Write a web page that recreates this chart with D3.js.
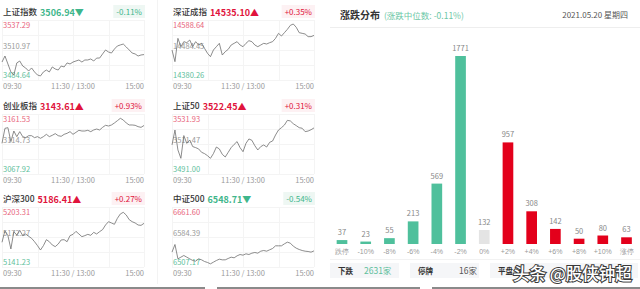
<!DOCTYPE html>
<html>
<head>
<meta charset="utf-8">
<script src="https://cdn.jsdelivr.net/npm/d3@7/dist/d3.min.js"></script>
<style>
	body { margin: 0; background: #fff; }
	svg { display: block; font-family: "Noto Sans CJK SC", "Noto Sans", sans-serif; }
</style>
</head>
<body>
<svg id="chart" width="640" height="289"></svg>
<script>

// ---- index panels ----
var indexNames = ['上证指数', '深证成指', '创业板指', '上证50', '沪深300', '中证500'];
var indexLast = ['3506.94', '14535.10', '3143.61', '3522.45', '5186.41', '6548.71'];
var indexChange = [-0.11, 0.35, 0.93, 0.31, 0.27, -0.54];
var indexHigh = [3537.29, 14588.64, 3161.53, 3531.93, 5203.31, 6661.60];
var indexLow = [3484.64, 14380.26, 3067.92, 3491.00, 5141.23, 6507.17];
var timeLabels = ['09:30', '11:30 / 13:00', '15:00'];

// one value every 5 trading minutes, 09:30 .. 15:00
var shPrices = [3500.4, 3505.7, 3498.7, 3491.7, 3489.0, 3499.6, 3501.3, 3496.9, 3495.2, 3492.5,
	3495.2, 3491.7, 3489.0, 3488.2, 3491.7, 3493.4, 3491.7, 3496.1, 3494.3, 3493.4,
	3496.9, 3496.1, 3499.6, 3498.7, 3500.4, 3501.3, 3502.2, 3500.4, 3502.2, 3502.2,
	3503.1, 3501.3, 3503.9, 3503.9, 3507.5, 3511.0, 3509.2, 3508.3, 3511.8, 3514.5,
	3515.4, 3516.2, 3513.6, 3511.0, 3508.3, 3507.5, 3505.7, 3506.6, 3506.94];
var szPrices = [14484.4, 14443.9, 14524.9, 14496.0, 14513.4, 14509.9, 14519.1, 14496.0, 14513.4, 14501.8,
	14507.6, 14490.2, 14472.9, 14461.3, 14484.4, 14496.0, 14507.6, 14467.0, 14478.6, 14486.7,
	14501.8, 14507.6, 14513.4, 14501.8, 14496.0, 14507.6, 14516.8, 14513.4, 14501.8, 14496.0,
	14501.8, 14507.6, 14505.2, 14509.9, 14513.4, 14524.9, 14542.3, 14533.0, 14544.6, 14556.2,
	14570.1, 14574.7, 14563.2, 14544.6, 14542.3, 14540.0, 14530.8, 14530.8, 14535.10];
var cybPrices = [3115.8, 3139.2, 3140.2, 3118.4, 3135.0, 3126.2, 3134.0, 3126.2, 3124.6, 3127.7,
	3127.7, 3124.6, 3126.2, 3123.6, 3126.2, 3129.8, 3126.2, 3128.3, 3130.9, 3127.7,
	3126.7, 3129.8, 3131.4, 3134.0, 3129.8, 3132.9, 3136.1, 3135.0, 3135.0, 3136.1,
	3134.0, 3136.6, 3138.1, 3136.6, 3140.7, 3143.9, 3142.8, 3144.4, 3147.5, 3151.1,
	3154.8, 3152.2, 3147.5, 3144.4, 3144.4, 3143.9, 3141.8, 3140.7, 3143.61];
var sz50Prices = [3510.8, 3521.0, 3507.4, 3501.7, 3517.2, 3511.9, 3514.2, 3509.7, 3509.0, 3508.1,
	3505.8, 3504.9, 3503.5, 3501.7, 3504.9, 3509.4, 3508.1, 3504.4, 3502.6, 3505.8,
	3509.0, 3511.2, 3513.1, 3509.0, 3506.2, 3511.9, 3514.9, 3514.0, 3510.3, 3507.4,
	3509.7, 3510.8, 3509.4, 3512.6, 3513.5, 3517.6, 3521.0, 3522.6, 3524.4, 3527.6,
	3527.2, 3525.3, 3524.0, 3522.6, 3522.2, 3519.9, 3520.3, 3521.2, 3522.45];
var hs300Prices = [5166.8, 5178.8, 5173.7, 5159.9, 5177.8, 5174.3, 5179.2, 5173.7, 5175.4, 5173.0,
	5170.9, 5167.4, 5163.3, 5158.8, 5163.3, 5169.5, 5167.4, 5164.0, 5162.3, 5165.0,
	5169.2, 5169.5, 5167.4, 5173.7, 5175.0, 5178.1, 5175.4, 5172.6, 5173.7, 5175.0,
	5174.0, 5177.1, 5175.4, 5177.8, 5179.9, 5184.7, 5188.1, 5186.8, 5185.4, 5191.6,
	5196.1, 5197.8, 5195.0, 5190.2, 5188.1, 5186.8, 5184.7, 5184.3, 5186.41];
var zz500Prices = [6545.4, 6565.1, 6528.2, 6532.5, 6536.8, 6532.5, 6528.2, 6523.9, 6522.2, 6528.2,
	6525.6, 6521.3, 6518.8, 6515.3, 6519.6, 6523.9, 6527.3, 6525.6, 6525.6, 6529.1,
	6532.5, 6530.8, 6535.9, 6539.3, 6537.6, 6541.1, 6539.3, 6542.8, 6544.5, 6542.8,
	6547.9, 6549.6, 6547.9, 6551.4, 6554.8, 6561.7, 6561.7, 6561.7, 6566.8, 6571.1,
	6568.5, 6560.8, 6555.6, 6552.2, 6549.6, 6547.9, 6547.1, 6545.4, 6548.71];
var indexPrices = [shPrices, szPrices, cybPrices, sz50Prices, hs300Prices, zz500Prices];

// ---- distribution ----
var distTitle = '涨跌分布';
var distMedian = '(涨跌中位数: -0.11%)';
var distDate = '2021.05.20 星期四';
var distCategories = ['跌停', '-10%', '-8%', '-6%', '-4%', '-2%', '0%', '+2%', '+4%', '+6%', '+8%', '+10%', '涨停'];
var distValues = [37, 23, 55, 213, 569, 1771, 132, 957, 308, 142, 50, 80, 63];
var summaryLabels = ['下跌', '停牌', '平盘'];
var summaryValues = ['2631家', '16家', ''];
var watermark = '头条 @股侠钟超';


var COLORS = {
	up: '#e0143c',
	upLight: '#e8647c',
	upBg: '#fdf1f3',
	down: '#3fb68b',
	downLight: '#5ec09c',
	downBg: '#eef7f3',
	bar_up: '#e3001b',
	bar_down: '#4fc09c',
	bar_flat: '#e4e4e4',
	grid: '#f4f4f4',
	text: '#333',
	muted: '#9a9a9a'
};

var svg = d3.select('#chart');

var Panels = {

	COL_X: [2, 172],
	ROW_Y: [0, 94, 187],
	WIDTH: 142,
	TOP: 20,
	BOTTOM: 80,

	draw: function() {
		var me = this;
		indexNames.forEach(function(name, i) {
			var g = svg.append('g')
				.attr('transform', 'translate(' + me.COL_X[i % 2] + ',' + me.ROW_Y[Math.floor(i / 2)] + ')');
			me.drawPanel(g, i);
		});

		// column separator
		svg.append('line')
			.attr('x1', 157.5).attr('x2', 157.5).attr('y1', 0).attr('y2', 284)
			.attr('stroke', '#f3f3f3');
	},

	drawPanel: function(g, i) {
		var up = indexChange[i] >= 0;
		var prices = indexPrices[i];

		var x = d3.scaleLinear().domain([0, prices.length - 1]).range([0, this.WIDTH]);
		var y = d3.scaleLinear().domain([indexLow[i], indexHigh[i]]).range([this.BOTTOM, this.TOP]);

		// grid
		var grid = g.append('g');
		grid.selectAll('line.v')
			.data(d3.range(5))
			.enter().append('line')
			.attr('x1', function(d) { return Math.round(d * 35.5) + 0.5; })
			.attr('x2', function(d) { return Math.round(d * 35.5) + 0.5; })
			.attr('y1', this.TOP).attr('y2', this.BOTTOM)
			.attr('stroke', COLORS.grid);
		grid.selectAll('line.h')
			.data(d3.range(5))
			.enter().append('line')
			.attr('x1', 0).attr('x2', this.WIDTH)
			.attr('y1', function(d) { return 20.5 + d * 15; })
			.attr('y2', function(d) { return 20.5 + d * 15; })
			.attr('stroke', COLORS.grid);

		// header
		var title = g.append('text')
			.attr('x', 1).attr('y', 15)
			.attr('font-size', 8.5).attr('font-weight', 500)
			.attr('fill', COLORS.text)
			.text(indexNames[i]);
		var tw = title.node().getComputedTextLength();

		g.append('text')
			.attr('x', tw + 4).attr('y', 15.5)
			.attr('font-size', 9).attr('font-weight', 'bold')
			.attr('fill', up ? COLORS.up : COLORS.down)
			.text(indexLast[i] + (up ? '▲' : '▼'));

		var chg = (up ? '+' : '') + indexChange[i].toFixed(2) + '%';
		var box = g.append('g');
		var ct = box.append('text')
			.attr('x', this.WIDTH - 2).attr('y', 15)
			.attr('text-anchor', 'end')
			.attr('font-size', 8)
			.attr('fill', up ? COLORS.up : COLORS.down)
			.text(chg);
		var cw = ct.node().getComputedTextLength();
		box.insert('rect', 'text')
			.attr('x', this.WIDTH - cw - 5).attr('y', 5)
			.attr('width', cw + 6).attr('height', 13)
			.attr('fill', up ? COLORS.upBg : COLORS.downBg);

		// y labels: high / mid / low
		var mid = (indexHigh[i] + indexLow[i]) / 2;
		g.append('text')
			.attr('x', 1).attr('y', y(indexHigh[i]) + 8)
			.attr('font-size', 7.5).attr('fill', COLORS.upLight)
			.text(indexHigh[i].toFixed(2));
		g.append('text')
			.attr('x', 1).attr('y', y(mid) - 1.5)
			.attr('font-size', 7.5).attr('fill', COLORS.muted)
			.text(mid.toFixed(2));
		g.append('text')
			.attr('x', 1).attr('y', y(indexLow[i]) - 2)
			.attr('font-size', 7.5).attr('fill', COLORS.downLight)
			.text(indexLow[i].toFixed(2));

		// time labels
		g.selectAll('text.t')
			.data(timeLabels)
			.enter().append('text')
			.attr('x', function(d, k) { return [1, 71, 142][k]; })
			.attr('y', 89)
			.attr('text-anchor', function(d, k) { return ['start', 'middle', 'end'][k]; })
			.attr('font-size', 7.5).attr('fill', COLORS.muted)
			.text(function(d) { return d; });

		// price line
		var line = d3.line()
			.x(function(d, k) { return x(k); })
			.y(function(d) { return y(d); });
		g.append('path')
			.datum(prices)
			.attr('d', line)
			.attr('fill', 'none')
			.attr('stroke', '#6f6f6f')
			.attr('stroke-width', 0.8);
	}
};


var Distribution = {

	LEFT: 330.5,
	RIGHT: 638,
	BASE: 244,
	TOP: 56,

	draw: function() {
		this.drawHeader();
		this.drawBars();
		this.drawSummary();
	},

	drawHeader: function() {
		var t = svg.append('text')
			.attr('x', 340).attr('y', 18.5)
			.attr('font-size', 10).attr('font-weight', 'bold')
			.attr('fill', COLORS.text)
			.text(distTitle);
		svg.append('text')
			.attr('x', 340 + t.node().getComputedTextLength() + 4).attr('y', 18.5)
			.attr('font-size', 8.5).attr('fill', '#6cc7a6')
			.text(distMedian);
		svg.append('text')
			.attr('x', 628).attr('y', 18)
			.attr('text-anchor', 'end')
			.attr('font-size', 8).attr('fill', '#555')
			.text(distDate);
		svg.append('line')
			.attr('x1', 330).attr('x2', 640).attr('y1', 27.5).attr('y2', 27.5)
			.attr('stroke', '#eeeeee');
	},

	colorFor: function(i) {
		if(i < 6) return COLORS.bar_down;
		if(i === 6) return COLORS.bar_flat;
		return COLORS.bar_up;
	},

	drawBars: function() {
		var me = this;
		var x = d3.scaleBand()
			.domain(distCategories)
			.range([this.LEFT, this.RIGHT])
			.paddingInner(0.55)
			.paddingOuter(0.26);
		var y = d3.scaleLinear()
			.domain([0, d3.max(distValues)])
			.range([this.BASE, this.TOP]);

		var g = svg.append('g');
		g.selectAll('rect')
			.data(distValues)
			.enter().append('rect')
			.attr('x', function(d, i) { return x(distCategories[i]); })
			.attr('y', function(d) { return y(d); })
			.attr('width', x.bandwidth())
			.attr('height', function(d) { return me.BASE - y(d); })
			.attr('fill', function(d, i) { return me.colorFor(i); });

		g.selectAll('text.v')
			.data(distValues)
			.enter().append('text')
			.attr('x', function(d, i) { return x(distCategories[i]) + x.bandwidth() / 2; })
			.attr('y', function(d) { return y(d) - 5; })
			.attr('text-anchor', 'middle')
			.attr('font-size', 7.5).attr('fill', '#888')
			.text(function(d) { return d; });

		var axis = d3.axisBottom(x).tickSize(0).tickPadding(5);
		var ag = svg.append('g')
			.attr('transform', 'translate(0,' + this.BASE + ')')
			.call(axis);
		ag.select('.domain').remove();
		ag.selectAll('text')
			.attr('font-family', null)
			.attr('font-size', 7).attr('fill', COLORS.muted);

		svg.append('line')
			.attr('x1', 330).attr('x2', 640).attr('y1', 259.5).attr('y2', 259.5)
			.attr('stroke', '#f2f2f2');
	},

	drawSummary: function() {
		var boxes = [[330, 69], [410, 69], [490, 148]];
		summaryLabels.forEach(function(lbl, i) {
			var b = boxes[i];
			svg.append('rect')
				.attr('x', b[0]).attr('y', 263)
				.attr('width', b[1]).attr('height', 15)
				.attr('fill', '#f5f6f8');
			svg.append('text')
				.attr('x', b[0] + 8).attr('y', 273.5)
				.attr('font-size', 7.5).attr('font-weight', 'bold')
				.attr('fill', COLORS.text)
				.text(lbl);
			svg.append('text')
				.attr('x', i === 0 ? b[0] + 34 : b[0] + b[1] - 2)
				.attr('y', 274)
				.attr('text-anchor', i === 0 ? 'start' : 'end')
				.attr('font-size', 8.5)
				.attr('fill', i === 0 ? COLORS.downLight : '#555')
				.text(summaryValues[i]);
		});

		// watermark over the summary row
		svg.append('text')
			.attr('x', 513).attr('y', 280)
			.attr('font-size', 16.5)
			.attr('font-weight', 500)
			.attr('fill', '#fff')
			.attr('stroke', '#3a3a3a')
			.attr('stroke-width', 2)
			.attr('paint-order', 'stroke')
			.text(watermark);

		// top edges of the next cards
		[[0, 205], [217, 420], [432, 640]].forEach(function(s) {
			svg.append('line')
				.attr('x1', s[0]).attr('x2', s[1]).attr('y1', 288).attr('y2', 288)
				.attr('stroke', '#8a8a8a').attr('stroke-width', 2);
		});
	}
};

Panels.draw();
Distribution.draw();

</script>
</body>
</html>
